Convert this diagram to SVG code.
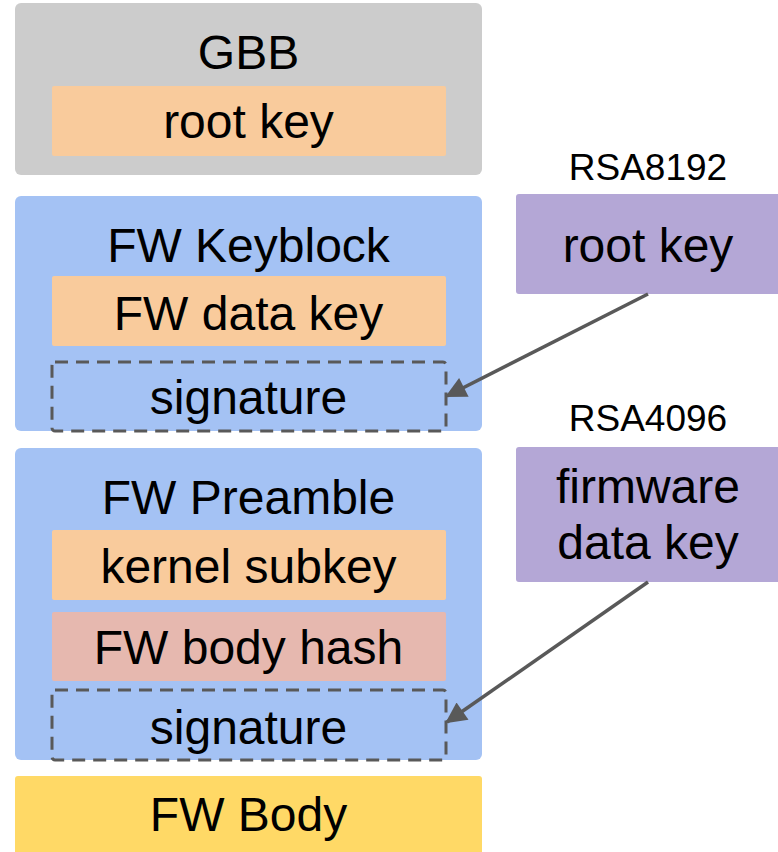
<svg xmlns="http://www.w3.org/2000/svg" width="778" height="852" viewBox="0 0 778 852">
<defs>
<style>
text{font-family:"Liberation Sans",Arial,sans-serif;fill:#000;text-anchor:middle}
.big{font-size:48px}
.sm{font-size:37px}
.sig{fill:none;stroke:#595959;stroke-width:3;stroke-dasharray:13 8}
.conn{stroke:#595959;stroke-width:3.5;fill:none}
</style>
<marker id="ah" viewBox="0 0 10 10" refX="9" refY="5" markerWidth="6.5" markerHeight="6" orient="auto" markerUnits="strokeWidth">
<path d="M0,0 L10,5 L0,10 z" fill="#595959"/>
</marker>
</defs>
<rect width="778" height="852" fill="#fff"/>
<g id="gbb">
<rect x="15" y="3" width="467" height="172" rx="6" fill="#cccccc"/>
<text class="big" x="248.5" y="69">GBB</text>
<rect x="52" y="86" width="394" height="70" rx="2" fill="#f9cb9c"/>
<text class="big" x="248.5" y="138">root key</text>
</g>
<g id="keyblock">
<rect x="15" y="196" width="467" height="235" rx="6" fill="#a4c2f4"/>
<text class="big" x="248.5" y="262">FW Keyblock</text>
<rect x="52" y="276" width="394" height="70" rx="2" fill="#f9cb9c"/>
<text class="big" x="248.5" y="330">FW data key</text>
<rect class="sig" x="52" y="362" width="394" height="69" rx="3"/>
<text class="big" x="248.5" y="414">signature</text>
</g>
<g id="preamble">
<rect x="15" y="448" width="467" height="312" rx="6" fill="#a4c2f4"/>
<text class="big" x="248.5" y="514">FW Preamble</text>
<rect x="52" y="530" width="394" height="70" rx="2" fill="#f9cb9c"/>
<text class="big" x="248.5" y="583">kernel subkey</text>
<rect x="52" y="612" width="394" height="69" rx="2" fill="#e6b8af"/>
<text class="big" x="248.5" y="664">FW body hash</text>
<rect class="sig" x="52" y="690" width="394" height="70" rx="3"/>
<text class="big" x="248.5" y="744">signature</text>
</g>
<g id="body">
<rect x="15" y="776" width="467" height="80" rx="3" fill="#ffd966"/>
<text class="big" x="248.5" y="831">FW Body</text>
</g>
<g id="rsa8192">
<text class="sm" x="648" y="180">RSA8192</text>
<rect x="516" y="194" width="270" height="100" rx="3" fill="#b4a7d6"/>
<text class="big" x="648" y="262">root key</text>
</g>
<g id="rsa4096">
<text class="sm" x="648" y="431">RSA4096</text>
<rect x="516" y="447" width="270" height="135" rx="3" fill="#b4a7d6"/>
<text class="big" x="648" y="503">firmware</text>
<text class="big" x="648" y="559">data key</text>
</g>
<g id="connectors">
<line class="conn" x1="648" y1="294" x2="447" y2="396" marker-end="url(#ah)"/>
<line class="conn" x1="648" y1="582" x2="447" y2="722" marker-end="url(#ah)"/>
</g>
</svg>
